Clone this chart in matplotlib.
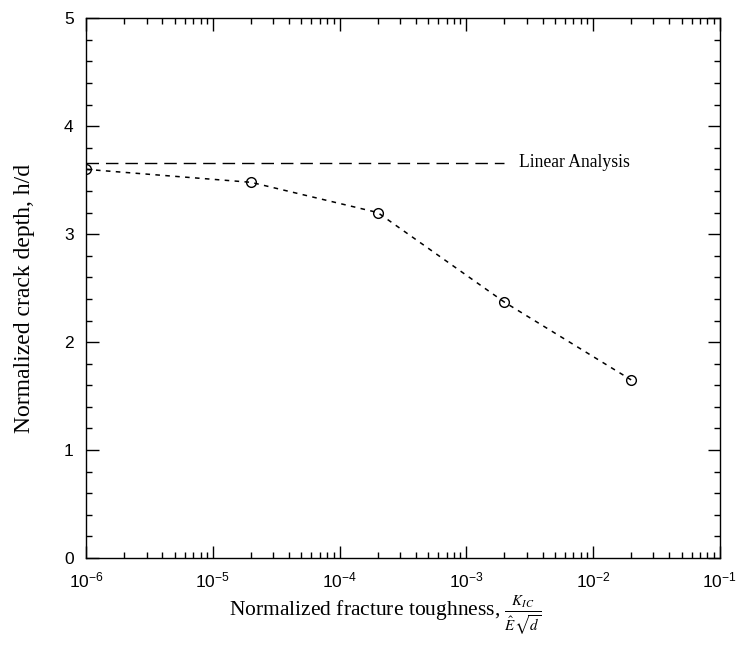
import matplotlib
matplotlib.use('Agg')
import matplotlib.pyplot as plt
from matplotlib.ticker import LogLocator, MultipleLocator, FixedLocator

plt.rcParams['mathtext.fontset'] = 'custom'
plt.rcParams['mathtext.rm'] = 'Liberation Sans'
plt.rcParams['mathtext.it'] = 'Liberation Sans:italic'

# data
toughness = [1e-6, 2e-5, 2e-4, 2e-3, 2e-2]
crack_depth = [3.60, 3.48, 3.20, 2.37, 1.65]
linear_x = [1e-6, 2e-3]
linear_depth = [3.66, 3.66]
xtick_vals = [1e-6, 1e-5, 1e-4, 1e-3, 1e-2, 1e-1]
xtick_labels = [r'$\mathregular{10^{-6}}$', r'$\mathregular{10^{-5}}$', r'$\mathregular{10^{-4}}$',
                r'$\mathregular{10^{-3}}$', r'$\mathregular{10^{-2}}$', r'$\mathregular{10^{-1}}$']
ytick_vals = [0, 1, 2, 3, 4, 5]

fig = plt.figure(figsize=(7.42, 6.5), dpi=100)
ax = fig.add_axes([0.116, 0.1415, 0.854, 0.8305])

ax.plot(toughness, crack_depth, linestyle=(0, (3, 3.5)), color='black', linewidth=1.1,
        marker='o', markersize=7, markerfacecolor='none', markeredgecolor='black',
        markeredgewidth=1.0)
ax.plot(linear_x, linear_depth, linestyle=(0, (9, 5)), color='black', linewidth=1.0)
ax.text(2.6e-3, 3.66, 'Linear Analysis', family='Liberation Serif', fontsize=12.7,
        va='center', ha='left')

ax.set_xscale('log')
ax.set_xlim(1e-6, 1e-1)
ax.set_ylim(0, 5)

ax.xaxis.set_major_locator(FixedLocator(xtick_vals))
ax.set_xticklabels(xtick_labels)
ax.xaxis.set_minor_locator(LogLocator(base=10, subs=range(2, 10), numticks=20))
ax.yaxis.set_major_locator(FixedLocator(ytick_vals))
ax.yaxis.set_minor_locator(MultipleLocator(0.2))

ax.tick_params(which='both', direction='in', top=True, right=True, width=1.0)
ax.tick_params(which='major', length=9, pad=9)
ax.tick_params(which='minor', length=4)
for lab in ax.get_xticklabels() + ax.get_yticklabels():
    lab.set_family('Liberation Sans')
    lab.set_fontsize(12.5)

for sp in ax.spines.values():
    sp.set_linewidth(1.0)

ax.set_xlabel(r'Normalized fracture toughness, $\frac{K_{IC}}{\hat{E}\sqrt{d}}$',
              family='Liberation Serif', fontsize=15.5, math_fontfamily='stix')
ax.set_ylabel('Normalized crack depth, h/d', family='Liberation Serif', fontsize=17)
ax.xaxis.set_label_coords(0.472, -0.066)
ax.yaxis.set_label_coords(-0.081, 0.48)

fig.savefig('out.png', dpi=100)
